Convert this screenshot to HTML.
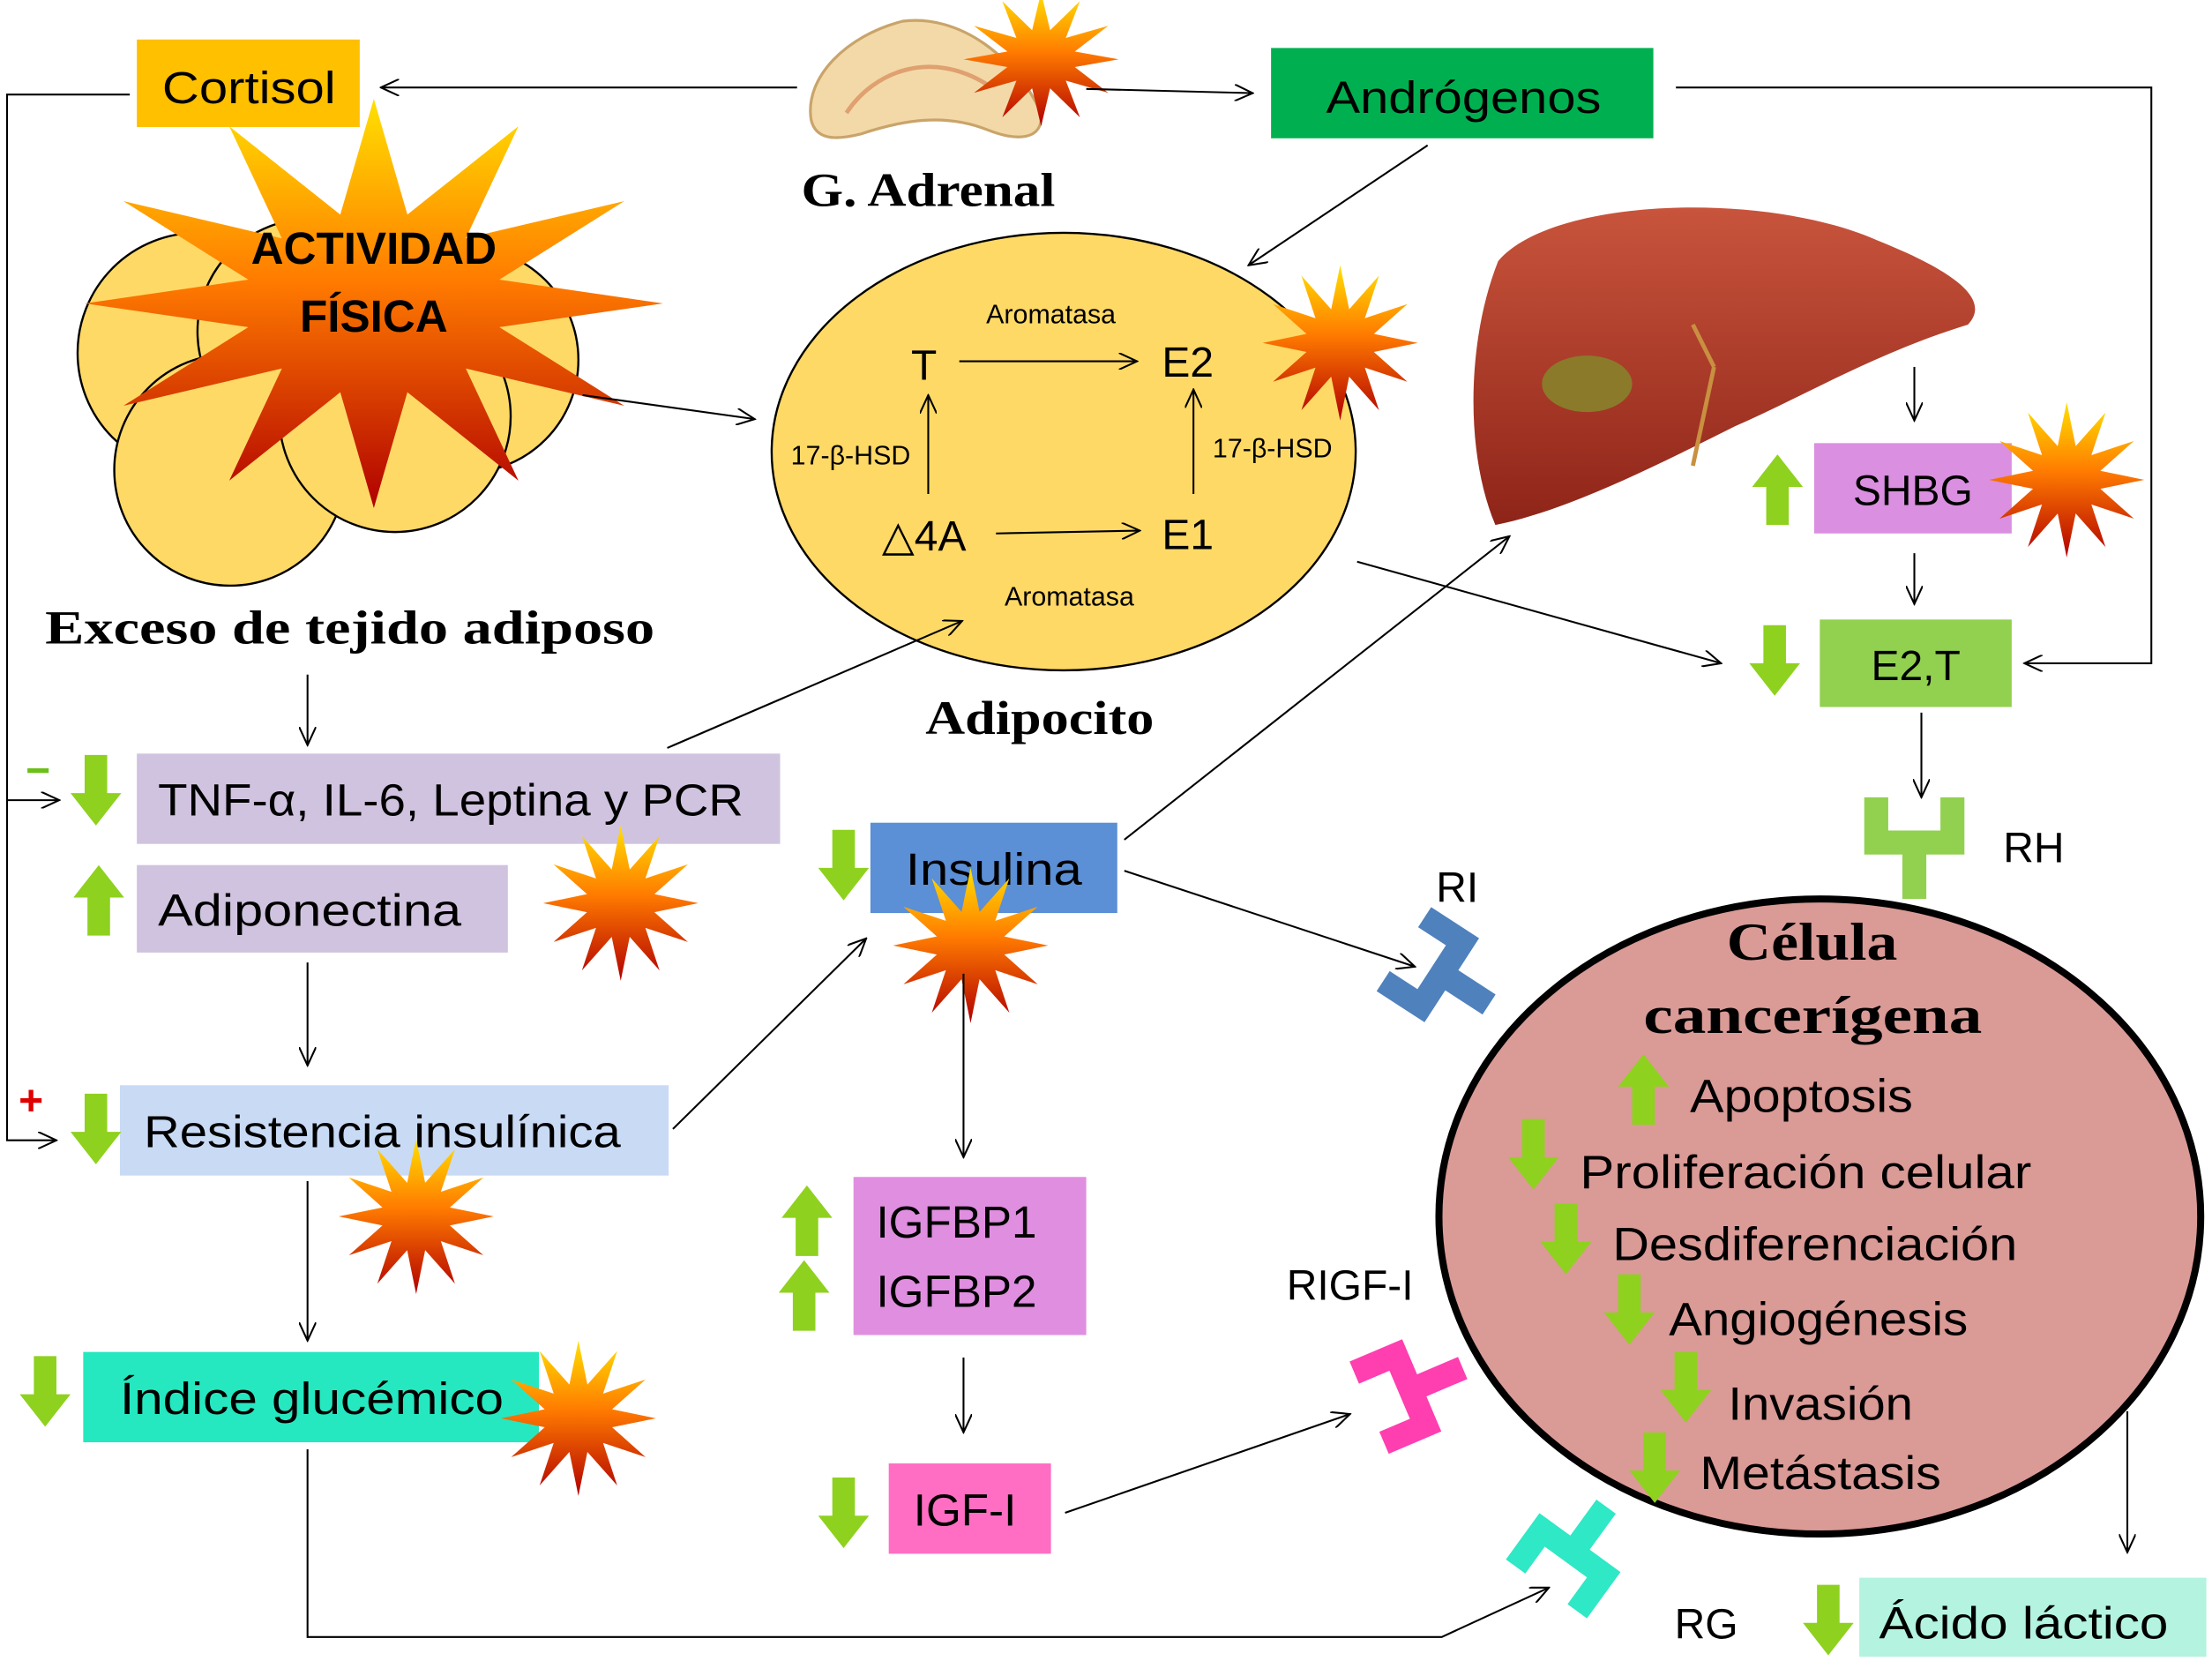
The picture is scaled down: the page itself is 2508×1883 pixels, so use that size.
<!DOCTYPE html>
<html><head><meta charset="utf-8"><style>
html,body{margin:0;padding:0;background:#fff}
svg{display:block}
text{font-family:"Liberation Sans",sans-serif}
.s{font-family:"Liberation Serif",serif;font-weight:bold}
</style></head><body>
<svg width="2508" height="1883" viewBox="0 0 1568 1177" preserveAspectRatio="none" xmlns="http://www.w3.org/2000/svg">
<defs>
<linearGradient id="sg" x1="0" y1="0" x2="0" y2="1">
<stop offset="0" stop-color="#FFE000"/><stop offset="0.45" stop-color="#FF7A00"/><stop offset="1" stop-color="#B00000"/></linearGradient>
<polygon id="star" fill="url(#sg)" points="50,0 21.7,5.8 43.3,25 15.9,15.9 25,43.3 5.8,21.7 0,50 -5.8,21.7 -25,43.3 -15.9,15.9 -43.3,25 -21.7,5.8 -50,0 -21.7,-5.8 -43.3,-25 -15.9,-15.9 -25,-43.3 -5.8,-21.7 0,-50 5.8,-21.7 25,-43.3 15.9,-15.9 43.3,-25 21.7,-5.8"/>
<polygon id="dn" fill="#8FD11F" points="-8,-25 8,-25 8,2 18,2 0,25 -18,2 -8,2"/>
<polygon id="up" fill="#8FD11F" points="-8,25 8,25 8,-2 18,-2 0,-25 -18,-2 -8,-2"/>
<marker id="a" markerWidth="14" markerHeight="12" refX="13" refY="6" orient="auto" markerUnits="userSpaceOnUse"><path d="M0,0 L13,6 L0,12" fill="none" stroke="#000" stroke-width="1.3"/></marker>
<linearGradient id="lv" x1="0" y1="0" x2="0" y2="1"><stop offset="0" stop-color="#C8543C"/><stop offset="1" stop-color="#8E2418"/></linearGradient>
<path id="rec" d="M-27,-32 V0 H27 V-32 M0,0 V40" fill="none" stroke-width="17"/>
</defs>

<rect x="97" y="28" width="158" height="62" fill="#FFC000"/>
<text x="115" y="73" font-size="32" textLength="123" lengthAdjust="spacingAndGlyphs">Cortisol</text>
<rect x="901" y="34" width="271" height="64" fill="#00B050"/>
<text x="940" y="80" font-size="32" textLength="195" lengthAdjust="spacingAndGlyphs">Andrógenos</text>

<path d="M575,85 C570,55 600,25 640,15 C680,10 720,40 738,80 C740,100 720,100 700,92 C670,80 640,85 610,95 C590,100 578,98 575,85Z" fill="#F3D9A8" stroke="#C9A46A" stroke-width="2"/>
<path d="M600,80 C620,50 660,35 700,60" fill="none" stroke="#E0A070" stroke-width="3"/>
<use href="#star" transform="translate(738,42) scale(1.1,0.95)"/>
<text x="568" y="146" font-size="34" class="s" textLength="180" lengthAdjust="spacingAndGlyphs">G. Adrenal</text>

<g fill="#FFD966" stroke="#000" stroke-width="1.5">
<circle cx="140" cy="250" r="85"/><circle cx="220" cy="235" r="80"/><circle cx="330" cy="255" r="80"/>
<circle cx="163" cy="333" r="82"/><circle cx="280" cy="295" r="82"/>
</g>
<use href="#star" transform="translate(265,215) scale(4.1,2.9)"/>
<text x="265" y="187" font-size="32" font-weight="bold" text-anchor="middle">ACTIVIDAD</text>
<text x="265" y="235" font-size="32" font-weight="bold" text-anchor="middle">FÍSICA</text>
<text x="32" y="456" font-size="34" class="s" textLength="432" lengthAdjust="spacingAndGlyphs">Exceso de tejido adiposo</text>

<ellipse cx="754" cy="320" rx="207" ry="155" fill="#FFD966" stroke="#000" stroke-width="1.5"/>
<use href="#star" transform="translate(950,243) scale(1.1)"/>
<text x="745" y="229" font-size="19" text-anchor="middle">Aromatasa</text>
<text x="758" y="429" font-size="19" text-anchor="middle">Aromatasa</text>
<text x="655" y="269" font-size="30" text-anchor="middle">T</text>
<text x="842" y="267" font-size="30" text-anchor="middle">E2</text>
<text x="655" y="390" font-size="30" text-anchor="middle">△4A</text>
<text x="842" y="389" font-size="30" text-anchor="middle">E1</text>
<text x="603" y="329" font-size="19" text-anchor="middle">17-β-HSD</text>
<text x="902" y="324" font-size="19" text-anchor="middle">17-β-HSD</text>
<text x="656" y="520" font-size="34" class="s" textLength="162" lengthAdjust="spacingAndGlyphs">Adipocito</text>

<path d="M1062,185 C1100,140 1250,135 1330,170 C1385,192 1412,212 1395,230 C1330,250 1280,280 1230,302 C1170,332 1110,362 1060,372 C1038,320 1040,240 1062,185Z" fill="url(#lv)"/>
<ellipse cx="1125" cy="272" rx="32" ry="20" fill="#8A7A2A"/>
<path d="M1200,330 L1215,260 M1215,260 L1200,230" stroke="#C89040" stroke-width="3" fill="none"/>

<rect x="1286" y="314" width="140" height="64" fill="#DA8FE0"/>
<text x="1356" y="358" font-size="30" text-anchor="middle">SHBG</text>
<use href="#star" transform="translate(1465,340) scale(1.1)"/>
<rect x="1290" y="439" width="136" height="62" fill="#92D050"/>
<text x="1358" y="482" font-size="30" text-anchor="middle">E2,T</text>

<rect x="97" y="534" width="456" height="64" fill="#D0C3DF"/>
<text x="112" y="578" font-size="32" textLength="415" lengthAdjust="spacingAndGlyphs">TNF-α, IL-6, Leptina y PCR</text>
<rect x="97" y="613" width="263" height="62" fill="#D0C3DF"/>
<text x="112" y="656" font-size="32" textLength="215" lengthAdjust="spacingAndGlyphs">Adiponectina</text>
<use href="#star" transform="translate(440,640) scale(1.1)"/>

<rect x="617" y="583" width="175" height="64" fill="#5B8FD6"/>
<text x="642" y="627" font-size="32" textLength="125" lengthAdjust="spacingAndGlyphs">Insulina</text>
<use href="#star" transform="translate(688,670) scale(1.1)"/>

<rect x="85" y="769" width="389" height="64" fill="#C9DAF5"/>
<text x="102" y="813" font-size="32" textLength="338" lengthAdjust="spacingAndGlyphs">Resistencia insulínica</text>
<use href="#star" transform="translate(295,862) scale(1.1)"/>

<rect x="59" y="958" width="323" height="64" fill="#25E8C0"/>
<text x="85" y="1002" font-size="32" textLength="272" lengthAdjust="spacingAndGlyphs">Índice glucémico</text>
<use href="#star" transform="translate(410,1005) scale(1.1)"/>

<rect x="605" y="834" width="165" height="112" fill="#E08EE0"/>
<text x="678" y="877" font-size="32" text-anchor="middle">IGFBP1</text>
<text x="678" y="926" font-size="32" text-anchor="middle">IGFBP2</text>
<rect x="630" y="1037" width="115" height="64" fill="#FF6EC2"/>
<text x="684" y="1081" font-size="32" text-anchor="middle">IGF-I</text>
<rect x="1318" y="1118" width="246" height="56" fill="#B3F3E0"/>
<text x="1332" y="1161" font-size="32" textLength="205" lengthAdjust="spacingAndGlyphs">Ácido láctico</text>

<ellipse cx="1290" cy="862" rx="270" ry="225" fill="#DA9A96" stroke="#000" stroke-width="5"/>
<text x="1224" y="680" font-size="38" class="s" textLength="121" lengthAdjust="spacingAndGlyphs">Célula</text>
<text x="1165" y="732" font-size="38" class="s" textLength="240" lengthAdjust="spacingAndGlyphs">cancerígena</text>
<g font-size="33" lengthAdjust="spacingAndGlyphs">
<text x="1198" y="788" textLength="158" lengthAdjust="spacingAndGlyphs">Apoptosis</text>
<text x="1120" y="842" textLength="320" lengthAdjust="spacingAndGlyphs">Proliferación celular</text>
<text x="1143" y="893" textLength="287" lengthAdjust="spacingAndGlyphs">Desdiferenciación</text>
<text x="1183" y="946" textLength="212" lengthAdjust="spacingAndGlyphs">Angiogénesis</text>
<text x="1225" y="1006" textLength="131" lengthAdjust="spacingAndGlyphs">Invasión</text>
<text x="1205" y="1055" textLength="171" lengthAdjust="spacingAndGlyphs">Metástasis</text>
</g>

<use href="#rec" stroke="#92D050" transform="translate(1357,597)"/>
<use href="#rec" stroke="#4F81BD" transform="translate(1022,690) rotate(-57)"/>
<use href="#rec" stroke="#FF3EB0" transform="translate(1000,985) rotate(-113)"/>
<use href="#rec" stroke="#2EE8C6" transform="translate(1115,1100) rotate(-144)"/>
<g font-size="30">
<text x="1420" y="611">RH</text>
<text x="1018" y="639">RI</text>
<text x="912" y="921">RIGF-I</text>
<text x="1187" y="1161">RG</text>
</g>

<use href="#dn" x="68" y="560"/><use href="#dn" x="68" y="800"/><use href="#dn" x="32" y="986"/>
<use href="#dn" x="598" y="613"/><use href="#dn" x="598" y="1072"/><use href="#dn" x="1258" y="468"/>
<use href="#dn" x="1087" y="818"/><use href="#dn" x="1110" y="878"/><use href="#dn" x="1155" y="928"/>
<use href="#dn" x="1195" y="983"/><use href="#dn" x="1173" y="1040"/><use href="#dn" x="1296" y="1148"/>
<use href="#up" x="70" y="638"/><use href="#up" x="1260" y="347"/><use href="#up" x="572" y="865"/>
<use href="#up" x="570" y="918"/><use href="#up" x="1165" y="772"/>
<text x="27" y="556" font-size="30" fill="#6CBF1A" font-weight="bold" text-anchor="middle">−</text>
<text x="22" y="790" font-size="30" fill="#E00000" font-weight="bold" text-anchor="middle">+</text>

<g fill="none" stroke="#000" stroke-width="1.3">
<polyline points="92,67 5,67 5,808 40,808" marker-end="url(#a)"/>
<line x1="5" y1="567" x2="42" y2="567" marker-end="url(#a)"/>
<line x1="565" y1="62" x2="270" y2="62" marker-end="url(#a)"/>
<line x1="770" y1="63" x2="888" y2="66" marker-end="url(#a)"/>
<polyline points="1188,62 1525,62 1525,470 1435,470" marker-end="url(#a)"/>
<line x1="1012" y1="103" x2="885" y2="188" marker-end="url(#a)"/>
<line x1="413" y1="280" x2="535" y2="297" marker-end="url(#a)"/>
<line x1="962" y1="398" x2="1220" y2="470" marker-end="url(#a)"/>
<line x1="1357" y1="260" x2="1357" y2="298" marker-end="url(#a)"/>
<line x1="1357" y1="392" x2="1357" y2="428" marker-end="url(#a)"/>
<line x1="1362" y1="505" x2="1362" y2="565" marker-end="url(#a)"/>
<line x1="218" y1="478" x2="218" y2="528" marker-end="url(#a)"/>
<line x1="473" y1="530" x2="682" y2="440" marker-end="url(#a)"/>
<line x1="218" y1="682" x2="218" y2="755" marker-end="url(#a)"/>
<line x1="218" y1="837" x2="218" y2="950" marker-end="url(#a)"/>
<line x1="477" y1="800" x2="614" y2="665" marker-end="url(#a)"/>
<line x1="797" y1="595" x2="1070" y2="380" marker-end="url(#a)"/>
<line x1="797" y1="617" x2="1003" y2="685" marker-end="url(#a)"/>
<line x1="683" y1="690" x2="683" y2="820" marker-end="url(#a)"/>
<line x1="683" y1="962" x2="683" y2="1015" marker-end="url(#a)"/>
<line x1="680" y1="256" x2="806" y2="256" marker-end="url(#a)"/>
<line x1="706" y1="378" x2="808" y2="376" marker-end="url(#a)"/>
<line x1="658" y1="350" x2="658" y2="280" marker-end="url(#a)"/>
<line x1="846" y1="350" x2="846" y2="276" marker-end="url(#a)"/>
<line x1="755" y1="1072" x2="957" y2="1002" marker-end="url(#a)"/>
<polyline points="218,1027 218,1160 1022,1160 1098,1125" marker-end="url(#a)"/>
<line x1="1508" y1="1000" x2="1508" y2="1100" marker-end="url(#a)"/>
</g>
</svg>
</body></html>
